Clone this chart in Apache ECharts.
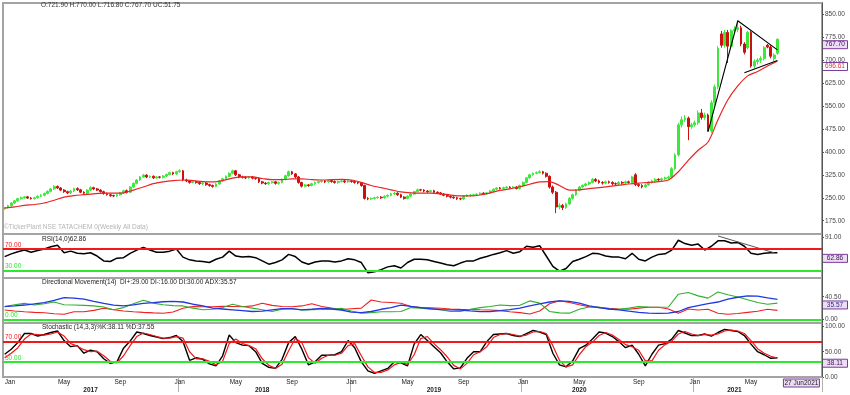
<!DOCTYPE html>
<html><head><meta charset="utf-8">
<script src="https://cdn.jsdelivr.net/npm/echarts@6/dist/echarts.min.js"></script>
<style>html,body{margin:0;padding:0;background:#fff}#c{width:850px;height:395px}</style>
</head><body><div id="c"></div>
<script>
const opens = [
214,218,224,233,240,247,250,253,249,247,
250,255,258,264,271,279,287,282,275,270,
266,272,280,276,268,265,275,283,279,275,
270,264,260,257,256,260,266,273,268,285,
297,308,318,324,318,320,315,318,317,321,
326,332,328,335,338,308,305,300,303,300,
296,298,293,290,287,295,305,312,320,330,
338,325,318,317,315,318,314,313,302,298,
296,300,302,297,300,310,322,335,328,318,
300,288,292,290,296,300,303,305,302,306,
303,300,303,305,302,305,303,300,298,290,
248,246,248,250,252,250,255,258,263,265,
260,252,248,255,262,270,276,275,272,270,
273,268,266,262,258,255,252,250,247,246,
255,258,258,260,262,265,263,266,272,278,
282,280,283,285,283,285,280,290,300,315,
325,330,332,335,330,320,285,268,220,225,
218,230,248,260,275,285,290,295,300,310,
305,300,298,302,300,296,295,300,298,302,
300,325,293,290,286,292,300,305,310,308,
312,315,318,345,390,488,505,510,482,488,
495,527,512,520,468,560,612,785,748,790,
745,795,800,805,752,740,790,680,695,700,
705,748,742,705,721.9];
const closes = [
218,224,233,240,247,250,253,249,247,250,
255,258,264,271,279,287,282,275,270,266,
272,280,276,268,265,275,283,279,275,270,
264,260,257,256,260,266,273,268,285,297,
308,318,324,318,320,315,318,317,321,326,
332,328,335,338,308,305,300,303,300,296,
298,293,290,287,295,305,312,320,330,338,
325,318,317,315,318,314,313,302,298,296,
300,302,297,300,310,322,335,328,318,300,
288,292,290,296,300,303,305,302,306,303,
300,303,305,302,305,303,300,298,290,248,
246,248,250,252,250,255,258,263,265,260,
252,248,255,262,270,276,275,272,270,273,
268,266,262,258,255,252,250,247,246,255,
258,258,260,262,265,263,266,272,278,282,
280,283,285,283,285,280,290,300,315,325,
330,332,335,330,320,285,268,220,225,218,
230,248,260,275,285,290,295,300,310,305,
300,298,302,300,296,295,300,298,302,300,
318,293,290,286,292,300,305,310,308,312,
315,318,345,390,488,505,510,482,488,495,
527,512,520,468,560,612,738,748,790,745,
795,800,805,752,725,790,680,695,700,705,
740,742,712,715.95,767.7];
const highs = [
220,227,236,243,250,254,256,256,252,253,
258,262,267,274,282,291,290,285,278,273,
275,283,284,279,271,278,287,286,282,278,
273,267,263,260,263,269,276,277,288,300,
311,321,328,327,323,323,321,321,324,329,
335,335,338,343,341,312,308,306,306,303,
301,301,296,293,298,308,315,323,333,342,
341,328,322,320,321,321,317,316,305,301,
303,305,305,303,313,325,339,338,331,321,
302,295,295,299,303,306,309,308,309,309,
306,306,308,308,308,308,306,303,301,293,
252,251,253,255,255,258,261,266,269,268,
263,255,258,265,273,280,279,278,275,276,
276,271,269,265,261,258,255,253,250,258,
261,262,263,265,268,268,269,275,281,285,
285,286,288,288,288,288,293,303,318,328,
333,336,340,338,333,323,290,272,232,230,
234,252,264,279,289,294,299,304,314,314,
309,304,306,306,304,300,304,304,306,306,
322,330,297,294,296,304,309,314,314,316,
319,322,350,395,495,515,520,515,495,502,
535,540,528,525,568,620,745,795,798,798,
800,810,828,812,758,795,795,702,706,712,
745,752,748,722,770];
const lows = [
211,215,221,230,237,244,247,246,244,244,
247,252,255,261,268,276,279,272,266,262,
262,269,272,265,261,262,272,275,272,267,
260,257,253,252,253,257,263,264,265,282,
294,305,315,314,314,311,312,313,313,318,
323,324,325,332,304,301,296,297,296,292,
292,289,286,283,284,292,302,309,317,327,
321,314,313,311,312,310,309,298,294,292,
292,296,293,293,297,307,319,325,314,296,
284,284,286,287,292,296,299,298,298,299,
296,296,300,298,298,299,296,294,286,244,
242,242,244,247,246,247,251,255,259,256,
249,244,245,252,259,267,271,268,266,267,
265,262,259,255,251,248,246,243,242,243,
252,254,255,257,259,260,260,263,269,275,
277,277,280,280,280,277,277,287,297,312,
322,327,329,326,316,280,262,200,212,210,
214,226,244,256,271,281,286,291,297,301,
296,293,294,296,290,290,291,293,294,296,
297,288,285,281,283,289,296,301,304,304,
308,311,315,340,385,480,498,438,475,482,
488,505,505,466,462,552,605,740,740,690,
738,785,790,745,718,735,675,672,685,690,
698,738,705,696,716.8];

const maStep = 3;
const ma = [
216,220,225,228,233,242,252,257,260,263,
265,265,266,275,285,296,302,306,308,306,
303,302,306,314,318,318,313,309,309,312,
312,309,308,309,310,308,300,290,283,276,
269,266,265,265,263,259,256,256,259,266,
274,279,286,294,302,303,290,275,276,280,
283,287,291,295,298,300,303,308,335,372,
405,432,505,570,615,648,662,680,696.61];

const rsiStep = 2;
const rsi = [
56,61,65,68,64,67,70,74,77,63,
66,62,61,63,57,48,47,53,54,62,
68,73,68,64,64,66,70,55,50,48,
47,45,51,55,66,57,55,56,54,48,
42,45,50,60,56,46,42,46,48,48,
46,48,52,50,45,26,28,32,37,39,
35,45,51,51,50,47,44,41,39,44,
48,48,53,56,60,63,67,62,65,75,
73,76,57,38,29,34,47,51,56,62,
61,57,55,55,52,62,51,48,55,60,
61,68,86,80,77,79,68,75,85,85,
81,82,75,62,60,62,63,62.86];

const dmStep = 3;
const diPlus = [
23,26,28.5,25.6,28,31,26,25.6,25,24,
22,17,21,28,34,29,26,24.5,24,20,
17,18,21,27,23,20,17,14,18,19,
16.7,17,17.5,18.5,19.7,15,11,12,13.6,13.6,
14,21,20,18,17,14,14,18,21,23,
25.6,24.5,25,33,29,14,11.5,11,18,22,
22,18,18,20,23,22,21.5,22,45,48,
42,38,49,44,40,35,30,27,29];
const diMinus = [
16.7,15,13.6,12.5,11.8,10,9,13.6,13.6,16,
19.7,17,15,13.6,12.5,11.5,10.8,13,19.7,23,
22.5,22.5,23.2,23,22.6,24,28.7,25,23,22.6,
24,28,23,20,17.5,19,20,34.6,31,30,
28.7,23,21,20.5,19.7,18.5,17.8,17.5,17,16.7,
15.5,13.6,12,9.5,15,28,33.4,30,26,22.6,
21,19.7,18.5,18,20,21.5,21.5,18.5,11,18.5,
16.7,17.9,11,9,10.5,12.5,14.5,17.9,16];
const adx = [
22.6,24,25.6,27.5,30,34,39,38,36,32,
28.7,25.5,24,26,28.7,30,31.5,32,31,27,
24,20,18.5,17,15.5,14,14.5,17,19,19,
17,18,19.5,18.5,16.7,13,12,14,18,21,
25.6,23,21,19,17.5,17,16.7,15,13.6,13.8,
15.5,17.5,20,24,27.5,31,33,32,29,24,
21,18.5,17,14.5,12.5,11,10.8,11,14,21,
24.5,28,31,36,39.5,42,41.5,38.5,35.57];

const stStep = 2;
const stochK = [
45,55,68,86,86,81,84,88,91,72,
60,62,47,53,50,36,27,30,57,71,
89,86,82,79,76,78,82,70,33,38,
35,26,22,42,83,68,63,62,50,27,
19,17,35,68,80,55,24,30,43,43,
44,50,72,58,30,12,7,12,17,30,
28,22,65,84,72,60,48,30,16,18,
37,50,50,70,84,85,86,82,80,86,
92,89,84,47,24,20,32,56,63,75,
89,87,80,70,58,63,45,22,45,63,
66,75,92,87,82,82,85,81,88,94,
92,90,82,65,50,44,37,38.11];
const stochD = [
38,47,58,75,85,84,83,85,89,81,
66,61,54,50,51,42,31,28,42,62,
80,87,84,80,77,77,80,77,50,36,
36,31,24,31,66,75,66,62,56,36,
23,17,25,52,76,68,38,27,37,43,
43,47,62,66,42,20,9,9,14,24,
29,25,44,76,80,66,54,40,23,16,
27,44,50,60,78,84,86,84,81,83,
89,90,86,62,33,20,24,44,60,69,
82,88,83,74,64,60,53,32,32,53,
64,71,85,90,85,82,84,83,85,91,
93,91,86,72,56,47,41,37.55];

const trendUpper = [[213,466],[222,828],[234,733]];
const trendLower = [[224,658],[234,698]];
const rsiTrend = [[216,94],[233,63]];

const axisWeeks = 248;
const startMs = Date.UTC(2017,0,1);
const monthNames = ['Jan','Feb','Mar','Apr','May','Jun','Jul','Aug','Sep','Oct','Nov','Dec'];
const labelMonths = [0,4,8];
const yearLabelWeeks = [26,78,130,174,221];
const priceTicks = [175,250,325,400,475,550,625,700,775,850];
const rsiTicks = [91];
const dmTicks = [0,40.5];
const stTicks = [0,50,100];
const rsiLevels = [70,30];
const stLevels = [70,30];

const categories = [];
for (let i = 0; i < axisWeeks; i++) {
  const d = new Date(startMs + i * 7 * 864e5);
  categories.push(d.toISOString().slice(0,10));
}
const lastW = closes.length - 1;
function isMonthStart(i, months){
  if (i > lastW) return false;
  const d = new Date(startMs + i * 7 * 864e5);
  return d.getUTCDate() <= 7 && months.includes(d.getUTCMonth());
}

const FONT = '"Liberation Sans", Arial, sans-serif';
const FS = 6.5;
const GREEN = '#3de83d', RED = '#cc1010';

const gridBase = {left:3, right:28, show:true, borderColor:'#a4a4a4', borderWidth:2, outerBoundsMode:'none', containLabel:false};
const grids = [
  Object.assign({top:3, height:231}, gridBase),
  Object.assign({top:234, height:44}, gridBase),
  Object.assign({top:278, height:45}, gridBase),
  Object.assign({top:323, height:54}, gridBase)
];
function xa(i){ return {type:'category', gridIndex:i, data:categories, boundaryGap:true, position:'bottom',
  axisLine:{show:false}, axisTick:{show:false}, axisLabel:{show:false}, splitLine:{show:false}, splitArea:{show:false}}; }
function ya(i, min, max, vals){ return {type:'value', gridIndex:i, position:'right', min, max,
  splitLine:{show:false},
  axisLine:{show:true, lineStyle:{color:'#555', width:1}},
  axisTick:{show:true, length:2, customValues:vals, lineStyle:{color:'#555'}},
  axisLabel:{customValues:vals, formatter:v=>v.toFixed(2), fontSize:FS, color:'#444', margin:3, fontFamily:FONT}}; }

const xAxes = [xa(0), xa(1), xa(2), xa(3)];
xAxes[3].axisLabel = {show:true, fontSize:FS, color:'#222', fontFamily:FONT, margin:2, alignMinLabel:'left',
  interval:(idx)=>isMonthStart(idx, labelMonths),
  formatter:(val)=>monthNames[parseInt(val.slice(5,7),10)-1]};
xAxes[3].axisTick = {show:true, length:15, interval:(idx)=>isMonthStart(idx,[0]) && idx>0, lineStyle:{color:'#b0b0b0'}};
xAxes.push({type:'category', gridIndex:3, position:'bottom', offset:8, data:categories, boundaryGap:true,
  axisLine:{show:false}, axisTick:{show:false}, splitLine:{show:false}, splitArea:{show:false},
  axisLabel:{show:true, fontSize:FS, fontWeight:'bold', color:'#222', fontFamily:FONT, margin:2,
    interval:(idx)=>yearLabelWeeks.includes(idx), formatter:(val)=>val.slice(0,4)}});

const pts = (arr, step) => arr.map((v,j)=>[j*step, v]);
function levelLine(vals, colors){
  return {symbol:'none', silent:true, animation:false,
    data: vals.map((v,k)=>({yAxis:v, lineStyle:{color:colors[k], width:2, type:'solid'},
      label:{show:true, position:'insideStartTop', distance:[2,0.5], formatter:v.toFixed(2), color:colors[k], fontSize:FS, fontFamily:FONT}}))};
}
const lineBase = {type:'line', symbol:'none', animation:false};

const series = [
  {type:'candlestick', xAxisIndex:0, yAxisIndex:0, barWidth:'70%', animation:false,
   data: opens.map((o,i)=>[o, closes[i], lows[i], highs[i]]),
   itemStyle:{color:GREEN, color0:RED, borderColor:GREEN, borderColor0:RED, borderWidth:1}},
  Object.assign({xAxisIndex:0, yAxisIndex:0, data:pts(ma, maStep), smooth:0.3, lineStyle:{color:'#e82424', width:1.2}}, lineBase),
  Object.assign({xAxisIndex:0, yAxisIndex:0, data:trendUpper, lineStyle:{color:'#000', width:1.1}}, lineBase),
  Object.assign({xAxisIndex:0, yAxisIndex:0, data:trendLower, lineStyle:{color:'#000', width:1.1}}, lineBase),
  Object.assign({xAxisIndex:1, yAxisIndex:1, data:pts(rsi, rsiStep), lineStyle:{color:'#000', width:1.5},
    markLine: levelLine(rsiLevels, ['#f01818','#2ee82e'])}, lineBase),
  Object.assign({xAxisIndex:1, yAxisIndex:1, data:rsiTrend, lineStyle:{color:'#555', width:1}}, lineBase),
  Object.assign({xAxisIndex:2, yAxisIndex:2, data:pts(diMinus, dmStep), lineStyle:{color:'#f02020', width:1.1},
    markLine: levelLine([0], ['#2ee82e'])}, lineBase),
  Object.assign({xAxisIndex:2, yAxisIndex:2, data:pts(diPlus, dmStep), lineStyle:{color:'#30b030', width:1.1}}, lineBase),
  Object.assign({xAxisIndex:2, yAxisIndex:2, data:pts(adx, dmStep), lineStyle:{color:'#2038e0', width:1.3}}, lineBase),
  Object.assign({xAxisIndex:3, yAxisIndex:3, data:pts(stochK, stStep), lineStyle:{color:'#000', width:1.4},
    markLine: levelLine(stLevels, ['#f01818','#2ee82e'])}, lineBase),
  Object.assign({xAxisIndex:3, yAxisIndex:3, data:pts(stochD, stStep), lineStyle:{color:'#f01818', width:1.2}}, lineBase)
];

const chart = echarts.init(document.getElementById('c'), null, {width:850, height:395});
chart.setOption({
  animation:false,
  backgroundColor:'#fff',
  textStyle:{fontFamily:FONT},
  grid: grids,
  xAxis: xAxes,
  yAxis: [ya(0,131.7,885.9,priceTicks), ya(1,16.5,97.6,rsiTicks), ya(2,-6.6,74,dmTicks), ya(3,0,106.8,stTicks)],
  series
});

const f2 = v => v.toFixed(2);
const last = a => a[a.length-1];
const font = (w) => (w||'') + ' ' + FS + 'px ' + FONT;
function txt(x, y, text, fill, bold){
  return {type:'text', x, y, silent:true, style:{text, fill, font:font(bold?'bold':''), verticalAlign:'middle'}};
}
function box(yVal, yAxisIndex, text, fill, stroke, color){
  const py = chart.convertToPixel({yAxisIndex}, yVal) + 5.5;
  return {type:'group', x:822.5, y:py, silent:true, children:[
    {type:'rect', shape:{x:0, y:-4, width:25, height:8}, style:{fill, stroke, lineWidth:1}},
    {type:'text', style:{text, x:12.5, y:0, align:'center', verticalAlign:'middle', fill:color, font:font()}}
  ]};
}
const lastDate = new Date(startMs + lastW*7*864e5);
const dateText = lastDate.getUTCDate() + ' ' + monthNames[lastDate.getUTCMonth()] + lastDate.getUTCFullYear();
const lastX = chart.convertToPixel({xAxisIndex:3}, lastW);
const uc = closes[lastW] - closes[lastW-1];

chart.setOption({graphic:[
  txt(41, 5, 'O:' + f2(last(opens)) + ' H:' + f2(last(highs)) + ' L:' + f2(last(lows)) + ' C:' + f2(last(closes)) + ' UC:' + f2(uc), '#333'),
  txt(4, 227, '\u00A9TickerPlant NSE TATACHEM 0(Weekly All Data)', '#b4b4b4'),
  txt(42, 239.5, 'RSI(14,0)' + f2(last(rsi)), '#222'),
  txt(42, 282.5, 'Directional Movement(14)  DI+:' + f2(last(diPlus)) + ' DI-:' + f2(last(diMinus)) + ' DI:30.00 ADX:' + f2(last(adx)), '#222'),
  txt(42, 327.5, 'Stochastic (14,3,3)%K:' + f2(last(stochK)) + ' %D:' + f2(last(stochD)), '#222'),
  box(last(closes), 0, f2(last(closes)), '#ecdcf4', '#7a3a9a', '#3a1050'),
  box(last(ma), 0, f2(last(ma)), '#ffffff', '#7a3a9a', '#ee2a2a'),
  box(last(rsi), 1, f2(last(rsi)), '#ecdcf4', '#7a3a9a', '#3a1050'),
  box(last(adx), 2, f2(last(adx)), '#ecdcf4', '#7a3a9a', '#2a2a80'),
  box(last(stochK), 3, f2(last(stochK)), '#ecdcf4', '#7a3a9a', '#3a1050'),
  {type:'group', x:lastX + 6, y:383, silent:true, children:[
    {type:'rect', shape:{x:0, y:-4, width:36, height:8}, style:{fill:'#ecdcf4', stroke:'#7a3a9a', lineWidth:1}},
    {type:'text', style:{text:dateText, x:18, y:0, align:'center', verticalAlign:'middle', fill:'#222', font:font()}}
  ]}
]});
</script>
</body></html>
